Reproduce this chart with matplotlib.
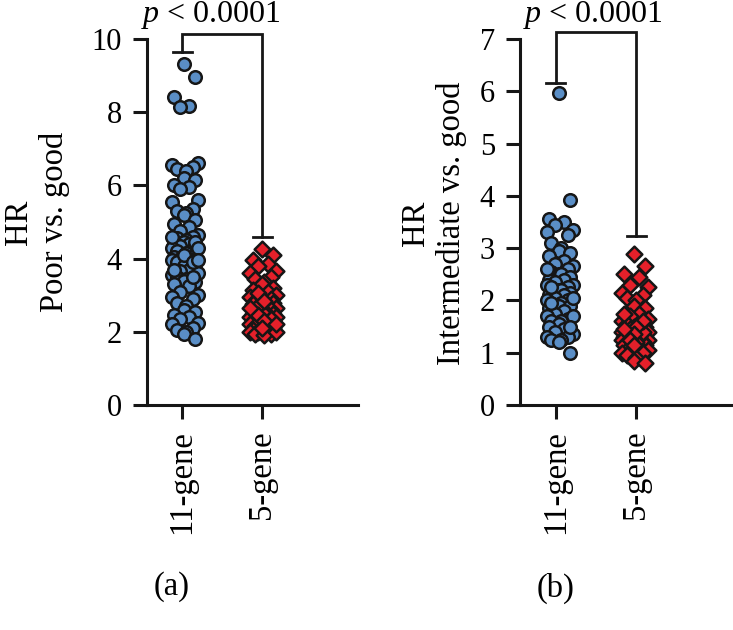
import matplotlib
matplotlib.use("Agg")
import matplotlib.pyplot as plt
import numpy as np

# HR values
CATEGORIES = ["11-gene", "5-gene"]

A_11GENE = [
    9.32, 8.95, 8.42, 8.18, 8.15,
    6.6, 6.55, 6.5, 6.45, 6.4, 6.2, 6.15, 6.0, 5.95, 5.9, 5.6, 5.55, 5.35, 5.3,
    5.25, 5.2, 5.05, 4.95, 4.85,
    4.75, 4.65, 4.6, 4.55, 4.5, 4.45, 4.4, 4.4, 4.35, 4.3, 4.25, 4.2, 4.15, 4.1,
    4.05, 4.0, 4.0, 3.95, 3.9, 3.85, 3.8, 3.75, 3.7, 3.65, 3.6, 3.55, 3.5, 3.45,
    3.4, 3.35, 3.3, 3.25, 4.45, 4.3, 4.1, 3.9, 3.7, 3.5, 4.6, 3.95,
    3.1, 3.0, 2.95, 2.9, 2.8, 2.7, 2.6, 2.55, 2.45, 2.4, 2.35, 2.25, 2.2, 2.1,
    2.05, 2.0, 1.95, 1.8,
]
A_5GENE = [
    4.25, 4.1, 3.95, 3.85, 3.8, 3.65, 3.6, 3.5, 3.45, 3.35, 3.3, 3.2, 3.15, 3.1,
    3.0, 2.95, 2.9, 2.85, 2.8, 2.8, 2.75, 2.7, 2.65, 2.6, 2.6, 2.55, 2.5, 2.5,
    2.45, 2.4, 2.4, 2.35, 2.3, 2.3, 2.25, 2.25, 2.2, 2.2, 2.15, 2.1, 2.1, 2.05,
    2.05, 2.0, 2.0, 1.95, 1.95, 1.9, 2.15, 2.35, 2.55, 2.7, 3.05, 2.0,
    2.45, 2.3, 2.2, 2.1, 2.65, 2.85,
]
B_11GENE = [
    5.97, 3.93, 3.55, 3.5, 3.45, 3.35, 3.3, 3.25, 3.1, 3.0, 2.95, 2.9, 2.85,
    2.75, 2.7, 2.65, 2.6, 2.55, 2.5, 2.5, 2.45, 2.4, 2.4, 2.35, 2.3, 2.3, 2.25,
    2.2, 2.2, 2.15, 2.1, 2.1, 2.05, 2.0, 2.0, 1.95, 1.9, 1.9, 1.85, 1.8, 1.75,
    1.7, 1.65, 1.6, 1.6, 1.55, 1.5, 1.45, 1.4, 1.35, 1.3, 1.3, 1.25, 1.25, 1.2,
    1.0, 2.25, 2.05, 1.95, 1.7, 1.5, 2.6,
]
B_5GENE = [
    2.88, 2.65, 2.5, 2.45, 2.3, 2.25, 2.15, 2.1, 2.05, 2.0, 1.9, 1.85, 1.75,
    1.7, 1.65, 1.6, 1.55, 1.5, 1.5, 1.45, 1.45, 1.4, 1.4, 1.35, 1.35, 1.3, 1.3,
    1.25, 1.25, 1.2, 1.2, 1.15, 1.15, 1.1, 1.1, 1.05, 1.0, 1.0, 0.95, 0.9, 0.85,
    0.8, 1.3, 1.4, 1.6, 1.2, 1.5, 1.75, 1.35, 1.25, 1.15, 1.45,
]

# significance brackets: (top, left cap, right cap)
A_BRACKET = (10.15, 9.65, 4.6)
B_BRACKET = (7.13, 6.15, 3.23)

BLUE = "#5a8ec6"
RED = "#e4202a"
INK = "#161616"
JITTER = [0.0, 0.14, -0.12, 0.07, -0.05, 0.18, -0.15, 0.11, -0.09, 0.03]

plt.rcParams.update({
    "font.family": "Liberation Serif",
    "font.size": 23.5,
    "mathtext.fontset": "custom",
    "mathtext.rm": "Liberation Serif",
    "mathtext.it": "Liberation Serif:italic",
})


def jittered(values, center, shift):
    order = np.argsort(values)[::-1]
    x = np.zeros(len(values))
    for rank, idx in enumerate(order):
        x[idx] = center + shift + JITTER[rank % len(JITTER)]
    return x


def draw_panel(ax, vals11, vals5, ymax, yticks, bracket, ptext_x, ptext_y, shifts):
    x11 = jittered(vals11, 0, shifts[0])
    x5 = jittered(vals5, 1, shifts[1])
    ax.scatter(x11, vals11, s=82, marker="o", facecolor=BLUE, edgecolor=INK,
               linewidth=1.8, zorder=3, clip_on=False)
    ax.scatter(x5, vals5, s=64, marker="D", facecolor=RED, edgecolor=INK,
               linewidth=1.8, zorder=3, clip_on=False)

    ax.set_xlim(-0.44, 2.2)
    ax.set_ylim(0, ymax)
    ax.set_yticks(yticks)
    ax.set_xticks([0, 1])
    ax.set_xticklabels(CATEGORIES, rotation=90, fontsize=23.5)
    ax.tick_params(axis="y", labelsize=22)
    for side in ["top", "right"]:
        ax.spines[side].set_visible(False)
    for side in ["left", "bottom"]:
        ax.spines[side].set_linewidth(2.2)
        ax.spines[side].set_color(INK)
    ax.tick_params(width=2.2, length=10, color=INK, pad=8)

    top, left_cap, right_cap = bracket
    lw = 2.0
    ax.plot([0, 0, 1, 1], [left_cap, top, top, right_cap], color=INK,
            lw=lw, clip_on=False, solid_joinstyle="miter")
    ax.plot([-0.12, 0.12], [left_cap, left_cap], color=INK, lw=lw, clip_on=False)
    ax.plot([0.88, 1.12], [right_cap, right_cap], color=INK, lw=lw, clip_on=False)
    ax.text(ptext_x, ptext_y, r"$p$ < 0.0001", ha="center", va="baseline",
            fontsize=23)


fig = plt.figure(figsize=(7.33, 6.3), dpi=100)
ax1 = fig.add_axes([147 / 733, 225 / 630, 211 / 733, 366 / 630])
ax2 = fig.add_axes([520 / 733, 225 / 630, 213 / 733, 366 / 630])

draw_panel(ax1, A_11GENE, A_5GENE, 10, [0, 2, 4, 6, 8, 10], A_BRACKET,
           0.36, 10.46, (0.02, 0.0))
draw_panel(ax2, B_11GENE, B_5GENE, 7, [0, 1, 2, 3, 4, 5, 6, 7], B_BRACKET,
           0.47, 7.32, (0.04, -0.03))

fig.text(37 / 733, 1 - 222 / 630, "HR\nPoor vs. good", rotation=90,
         ha="center", va="center", multialignment="center", linespacing=1.2)
fig.text(434 / 733, 1 - 223 / 630, "HR\nIntermediate vs. good", rotation=90,
         ha="center", va="center", multialignment="center", linespacing=1.2)
fig.text(172 / 733, 1 - 587 / 630, "(a)", ha="center", va="center")
fig.text(556 / 733, 1 - 588 / 630, "(b)", ha="center", va="center")

fig.savefig("out.png", dpi=100)
